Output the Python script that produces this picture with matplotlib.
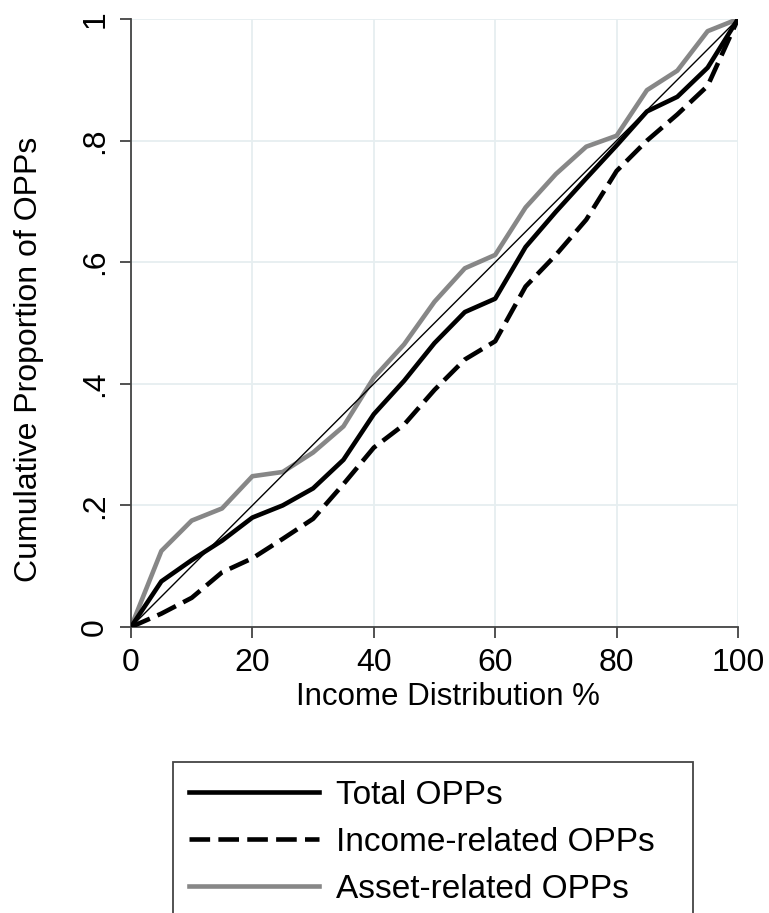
import matplotlib
matplotlib.use("Agg")
import matplotlib.pyplot as plt
from matplotlib.patches import Rectangle

plt.rcParams['font.family'] = ['Liberation Sans', 'DejaVu Sans']

# income percentile
income_pct = [0, 5, 10, 15, 20, 25, 30, 35, 40, 45, 50,
              55, 60, 65, 70, 75, 80, 85, 90, 95, 100]

total_opps = [0, 0.075, 0.11, 0.142, 0.18, 0.2, 0.228, 0.275, 0.35, 0.405, 0.467,
              0.518, 0.54, 0.625, 0.683, 0.738, 0.792, 0.848, 0.872, 0.92, 1.0]

income_opps = [0, 0.022, 0.048, 0.09, 0.113, 0.145, 0.178, 0.235, 0.295, 0.333, 0.39,
               0.44, 0.47, 0.56, 0.612, 0.67, 0.75, 0.8, 0.843, 0.89, 1.0]

asset_opps = [0, 0.125, 0.175, 0.195, 0.248, 0.255, 0.287, 0.33, 0.41, 0.465, 0.535,
              0.59, 0.612, 0.69, 0.745, 0.79, 0.808, 0.883, 0.915, 0.98, 1.0]

equality_x = [0, 100]
equality_y = [0, 1]

x_ticks = [0, 20, 40, 60, 80, 100]
y_ticks = [0, 0.2, 0.4, 0.6, 0.8, 1.0]
y_ticklabels = ['0', '.2', '.4', '.6', '.8', '1']

W, H = 769, 913
FS = 23
fig = plt.figure(figsize=(W / 100, H / 100), dpi=100)
ax = fig.add_axes([131 / W, 1 - 627 / H, (738 - 131) / W, (627 - 19) / H])

ax.plot(equality_x, equality_y, color='black', lw=1.0, zorder=3)
l_total, = ax.plot(income_pct, total_opps, color='black', lw=3.3,
                   label='Total OPPs', zorder=4)
l_income, = ax.plot(income_pct, income_opps, color='black', lw=3.3,
                    linestyle=(0, (4.5, 1.8)), label='Income-related OPPs', zorder=4)
l_asset, = ax.plot(income_pct, asset_opps, color='#878787', lw=3.3,
                   label='Asset-related OPPs', zorder=2)

ax.set_xlim(0, 100)
ax.set_ylim(0, 1)
ax.set_xticks(x_ticks)
ax.set_yticks(y_ticks)
ax.set_yticklabels(y_ticklabels, rotation=90, va='center')
ax.tick_params(labelsize=FS, length=8, width=1.2, color='#333333', pad=7)
ax.grid(True, color='#e6eef0', lw=1.3)
ax.set_axisbelow(True)
for s in ['top', 'right']:
    ax.spines[s].set_visible(False)
for s in ['left', 'bottom']:
    ax.spines[s].set_color('#444444')
    ax.spines[s].set_linewidth(1.3)

ax.set_xlabel('Income Distribution %', fontsize=22.5, labelpad=4)
ax.xaxis.set_label_coords(0.522, -0.09)
ax.set_ylabel('Cumulative Proportion of OPPs', fontsize=FS)
ax.yaxis.set_label_coords(-0.143, 0.44)

# legend box runs off the bottom of the image
fig.patches.append(Rectangle((173 / W, -0.05), (693 - 173) / W, 1 - 762 / H + 0.05,
                             transform=fig.transFigure, fill=False,
                             edgecolor='#444444', lw=1.3))
fig.legend(handles=[l_total, l_income, l_asset], loc='upper left',
           bbox_to_anchor=(159 / W, 1 - 750 / H), frameon=False, fontsize=24,
           handlelength=3.9, handletextpad=0.5, labelspacing=0.48)

fig.savefig('out.png', dpi=100)
